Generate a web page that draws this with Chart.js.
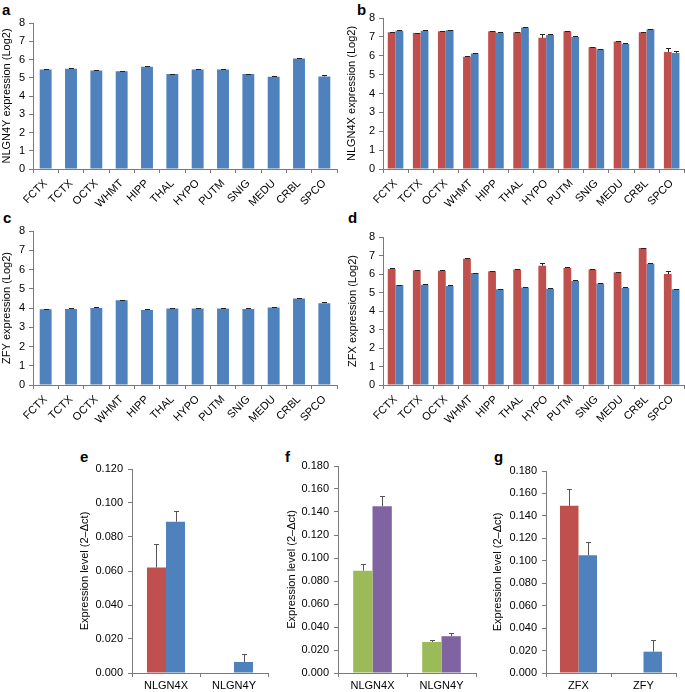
<!DOCTYPE html>
<html>
<head>
<meta charset="utf-8">
<script src="https://cdn.jsdelivr.net/npm/chart.js@4.4.1/dist/chart.umd.min.js"></script>
<style>
  body { margin: 0; background: #fff; width: 685px; height: 692px; position: relative; overflow: hidden; font-family: "Liberation Sans", Arial, sans-serif; }
  canvas { position: absolute; }
  .tag { position: absolute; font-weight: bold; font-size: 15px; line-height: 15px; color: #000; }
</style>
</head>
<body>
<div class="tag" style="left:2px;top:2px">a</div>
<div class="tag" style="left:357px;top:2px">b</div>
<div class="tag" style="left:3px;top:210px">c</div>
<div class="tag" style="left:348px;top:210px">d</div>
<div class="tag" style="left:80px;top:449px">e</div>
<div class="tag" style="left:285px;top:449px">f</div>
<div class="tag" style="left:494px;top:449px">g</div>

<canvas id="chartA"></canvas>
<canvas id="chartB"></canvas>
<canvas id="chartC"></canvas>
<canvas id="chartD"></canvas>
<canvas id="chartE"></canvas>
<canvas id="chartF"></canvas>
<canvas id="chartG"></canvas>

<script>
// brain regions used in panels a-d
const regions = ['FCTX', 'TCTX', 'OCTX', 'WHMT', 'HIPP', 'THAL', 'HYPO', 'PUTM', 'SNIG', 'MEDU', 'CRBL', 'SPCO'];

// a: NLGN4Y (log2)
const nlgn4y = [5.45, 5.5, 5.4, 5.35, 5.6, 5.2, 5.45, 5.45, 5.2, 5.05, 6.05, 5.07];
const nlgn4yErr = [0.03, 0.03, 0.03, 0.03, 0.03, 0.03, 0.03, 0.03, 0.03, 0.03, 0.04, 0.06];

// b: NLGN4X (log2), two series
const nlgn4xRed = [7.25, 7.2, 7.3, 5.95, 7.3, 7.25, 6.95, 7.3, 6.45, 6.75, 7.25, 6.2];
const nlgn4xRedErr = [0.03, 0.03, 0.03, 0.03, 0.03, 0.03, 0.2, 0.03, 0.03, 0.03, 0.03, 0.22];
const nlgn4xBlue = [7.32, 7.33, 7.35, 6.12, 7.22, 7.5, 7.1, 7.0, 6.35, 6.62, 7.4, 6.15];
const nlgn4xBlueErr = [0.03, 0.03, 0.03, 0.03, 0.03, 0.03, 0.05, 0.03, 0.03, 0.03, 0.03, 0.1];

// c: ZFY (log2)
const zfy = [3.93, 3.95, 4.0, 4.4, 3.9, 3.98, 3.97, 3.97, 3.95, 4.02, 4.5, 4.25];
const zfyErr = [0.03, 0.03, 0.03, 0.03, 0.03, 0.03, 0.03, 0.03, 0.03, 0.03, 0.03, 0.04];

// d: ZFX (log2), two series
const zfxRed = [6.27, 6.2, 6.18, 6.83, 6.15, 6.25, 6.45, 6.33, 6.25, 6.1, 7.4, 6.0];
const zfxRedErr = [0.03, 0.03, 0.03, 0.03, 0.03, 0.03, 0.15, 0.03, 0.03, 0.03, 0.03, 0.15];
const zfxBlue = [5.4, 5.42, 5.35, 6.05, 5.17, 5.27, 5.2, 5.62, 5.48, 5.25, 6.55, 5.17];
const zfxBlueErr = [0.03, 0.03, 0.03, 0.03, 0.03, 0.03, 0.03, 0.03, 0.03, 0.03, 0.03, 0.03];

// e: expression level (2-dct)
const genesE = ['NLGN4X', 'NLGN4Y'];
const eRed = [0.062, 0];
const eRedErr = [0.014, 0];
const eBlue = [0.089, 0.0065];
const eBlueErr = [0.006, 0.0045];

// f
const genesF = ['NLGN4X', 'NLGN4Y'];
const fGreen = [0.089, 0.027];
const fGreenErr = [0.006, 0.002];
const fPurple = [0.145, 0.032];
const fPurpleErr = [0.009, 0.003];

// g
const genesG = ['ZFX', 'ZFY'];
const gRed = [0.149, 0];
const gRedErr = [0.015, 0];
const gBlue = [0.105, 0.019];
const gBlueErr = [0.012, 0.01];

const RED = '#c0504d';
const BLUE = '#4f81bd';
const GREEN = '#9bbb59';
const PURPLE = '#8064a2';
const AXIS = '#7a7a7a';
const FONT = '"Liberation Sans", Arial, sans-serif';

// draws the up-only error bars with a cap
const errorBars = {
    id: 'errorBars',
    afterDatasetsDraw(chart, args, opts) {
        const ctx = chart.ctx;
        const yScale = chart.scales.y;
        chart.data.datasets.forEach((ds, i) => {
            if (!ds.errors) return;
            const meta = chart.getDatasetMeta(i);
            meta.data.forEach((bar, j) => {
                const v = ds.data[j];
                const e = ds.errors[j];
                if (!v || !e) return;
                const x = Math.round(bar.x) + 0.5;
                const top = Math.round(yScale.getPixelForValue(v + e)) + 0.5;
                ctx.save();
                ctx.strokeStyle = opts.color;
                ctx.lineWidth = 1;
                ctx.beginPath();
                ctx.moveTo(x, bar.y);
                ctx.lineTo(x, top);
                ctx.moveTo(x - opts.cap, top);
                ctx.lineTo(x + opts.cap, top);
                ctx.stroke();
                ctx.restore();
            });
        });
    }
};

function makeChart(id, box, plot, labels, datasets, yOpts) {
    const canvas = document.getElementById(id);
    canvas.width = box.w;
    canvas.height = box.h;
    canvas.style.left = box.x + 'px';
    canvas.style.top = box.y + 'px';

    const yWidth = plot.l - box.x;
    const xHeight = box.y + box.h - plot.b;

    return new Chart(canvas.getContext('2d'), {
        type: 'bar',
        data: { labels: labels, datasets: datasets },
        options: {
            responsive: false,
            animation: false,
            layout: { padding: { top: plot.t - box.y, right: box.x + box.w - plot.r, left: 0, bottom: 0 } },
            plugins: {
                legend: { display: false },
                tooltip: { enabled: false },
                errorBars: { color: yOpts.errColor, cap: yOpts.cap }
            },
            scales: {
                x: {
                    offset: true,
                    grid: { offset: true, drawOnChartArea: false, tickLength: 4, color: AXIS },
                    border: { color: AXIS },
                    ticks: {
                        color: '#000',
                        font: { family: FONT, size: 11 },
                        minRotation: yOpts.rotate,
                        maxRotation: yOpts.rotate,
                        autoSkip: false,
                        padding: yOpts.rotate ? 4 : 2
                    },
                    afterFit: (scale) => { scale.height = xHeight; }
                },
                y: {
                    min: 0,
                    max: yOpts.max,
                    grid: { drawOnChartArea: false, tickLength: 4, color: AXIS },
                    border: { color: AXIS },
                    ticks: {
                        stepSize: yOpts.step,
                        color: '#000',
                        padding: yOpts.tickPad,
                        font: { family: FONT, size: yOpts.tickSize },
                        callback: (v) => yOpts.decimals ? v.toFixed(yOpts.decimals) : v
                    },
                    title: {
                        display: true,
                        text: yOpts.title,
                        color: '#000',
                        font: { family: FONT, size: 11 },
                        padding: 0
                    },
                    afterFit: (scale) => { scale.width = yWidth; }
                }
            }
        },
        plugins: [errorBars]
    });
}

function bars(data, errors, color, pct) {
    return {
        data: data,
        errors: errors,
        backgroundColor: color,
        borderWidth: 0,
        categoryPercentage: pct,
        barPercentage: 1
    };
}

const logOpts = (title) => ({ max: 8, step: 1, title: title, rotate: 45, tickSize: 11, tickPad: 4, errColor: '#222', cap: 2.5 });
const lvlOpts = (max) => ({ max: max, step: 0.02, decimals: 3, title: 'Expression level (2\u2013\u0394ct)', rotate: 0, tickSize: 11, tickPad: 5, errColor: '#555', cap: 2.5 });

makeChart('chartA', { x: 0, y: 0, w: 340, h: 215 }, { l: 33, t: 23, r: 337, b: 169 },
    regions, [bars(nlgn4y, nlgn4yErr, BLUE, 0.47)], logOpts('NLGN4Y expression (Log2)'));

makeChart('chartB', { x: 345, y: 0, w: 340, h: 215 }, { l: 383, t: 18, r: 685, b: 169 },
    regions, [bars(nlgn4xRed, nlgn4xRedErr, RED, 0.62), bars(nlgn4xBlue, nlgn4xBlueErr, BLUE, 0.62)],
    logOpts('NLGN4X expression (Log2)'));

makeChart('chartC', { x: 0, y: 215, w: 340, h: 225 }, { l: 33, t: 231, r: 337, b: 385 },
    regions, [bars(zfy, zfyErr, BLUE, 0.47)], logOpts('ZFY expression (Log2)'));

makeChart('chartD', { x: 346, y: 215, w: 339, h: 225 }, { l: 383, t: 237, r: 685, b: 385 },
    regions, [bars(zfxRed, zfxRedErr, RED, 0.62), bars(zfxBlue, zfxBlueErr, BLUE, 0.62)],
    logOpts('ZFX expression (Log2)'));

makeChart('chartE', { x: 78, y: 440, w: 195, h: 252 }, { l: 132, t: 469, r: 268, b: 673 },
    genesE, [bars(eRed, eRedErr, RED, 0.56), bars(eBlue, eBlueErr, BLUE, 0.56)], lvlOpts(0.12));

makeChart('chartF', { x: 285, y: 440, w: 195, h: 252 }, { l: 338, t: 466, r: 476, b: 673 },
    genesF, [bars(fGreen, fGreenErr, GREEN, 0.56), bars(fPurple, fPurpleErr, PURPLE, 0.56)], lvlOpts(0.18));

makeChart('chartG', { x: 491, y: 440, w: 194, h: 252 }, { l: 546, t: 471, r: 676, b: 673 },
    genesG, [bars(gRed, gRedErr, RED, 0.57), bars(gBlue, gBlueErr, BLUE, 0.57)], lvlOpts(0.18));
</script>
</body>
</html>
